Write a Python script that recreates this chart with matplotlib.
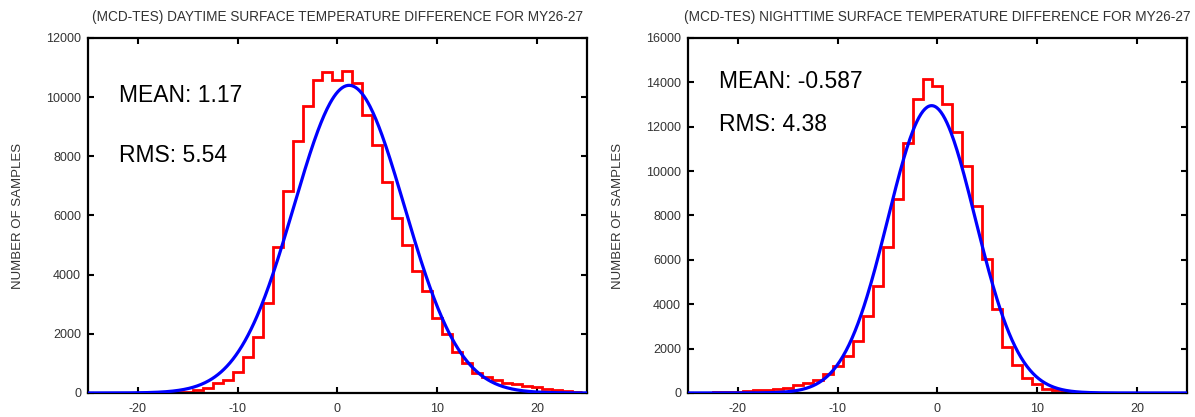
import numpy as np
import matplotlib.pyplot as plt

plt.rcParams['font.family'] = ['Liberation Sans', 'DejaVu Sans']
plt.rcParams['axes.unicode_minus'] = False

# bin centres (width 1 K)
bins = list(range(-24, 25))

# daytime histogram counts, bins -24..24
day_counts = [5, 5, 5, 5, 5, 10, 10, 15, 20, 50, 100, 160, 330, 440, 720, 1210,
              1900, 3030, 4920, 6840, 8530, 9710, 10580, 10840, 10580, 10880, 10490,
              9400, 8380, 7120, 5930, 5000, 4120, 3450, 2550, 2000, 1400, 1010, 690,
              530, 440, 350, 295, 250, 192, 146, 100, 70, 40]

# nighttime histogram counts, bins -24..24
night_counts = [5, 15, 30, 40, 60, 90, 120, 150, 182, 243, 348, 451, 573, 844, 1200,
                1680, 2360, 3460, 4816, 6562, 8729, 11288, 13244, 14147, 13846, 13003,
                11769, 10234, 8443, 6020, 3763, 2060, 1260, 662, 390, 181, 120, 80, 30,
                15, 5, 0, 0, 0, 0, 0, 0, 0, 0]

day_mean, day_rms, day_peak = 1.17, 5.54, 10400
night_mean, night_rms, night_peak = -0.587, 4.38, 12950

titles = ['(MCD-TES) DAYTIME SURFACE TEMPERATURE DIFFERENCE FOR MY26-27',
          '(MCD-TES) NIGHTTIME SURFACE TEMPERATURE DIFFERENCE FOR MY26-27']

fig = plt.figure(figsize=(11.95, 4.17), dpi=100)
ax1 = fig.add_axes([0.0736, 0.0576, 0.4176, 0.8513])
ax2 = fig.add_axes([0.5757, 0.0576, 0.4176, 0.8513])

panels = [
    (ax1, day_counts, day_mean, day_rms, day_peak, 12000, titles[0], '1.17', '5.54', 0.837, 0.668),
    (ax2, night_counts, night_mean, night_rms, night_peak, 16000, titles[1], '-0.587', '4.38', 0.878, 0.755),
]

xs = np.linspace(-25, 25, 500)
edges = np.arange(bins[0] - 0.5, bins[-1] + 1.5, 1.0)

for ax, counts, mu, rms, peak, ymax, title, mtxt, rtxt, ym, yr in panels:
    ax.stairs(counts, edges, color='#ff0000', lw=2.0, baseline=None, zorder=2)
    ax.plot(xs, peak * np.exp(-0.5 * ((xs - mu) / rms) ** 2), color='#0000ff', lw=2.3, zorder=3)
    ax.set_xlim(-25, 25)
    ax.set_ylim(0, ymax)
    ax.set_xticks([-20, -10, 0, 10, 20])
    ax.set_yticks(np.arange(0, ymax + 1, 2000))
    ax.tick_params(direction='in', top=True, right=True, length=4, width=1.5,
                   labelsize=9, labelcolor='#333333', pad=5)
    ax.tick_params(axis='x', pad=7)
    for s in ax.spines.values():
        s.set_linewidth(1.6)
    ax.set_title(title, fontsize=9.8, color='#333333', pad=12)
    ax.set_ylabel('NUMBER OF SAMPLES', fontsize=9.5, color='#333333', labelpad=16)
    ax.text(0.062, ym, 'MEAN: ' + mtxt, transform=ax.transAxes, fontsize=16.5, va='center')
    ax.text(0.062, yr, 'RMS: ' + rtxt, transform=ax.transAxes, fontsize=16.5, va='center')

fig.savefig('out.png', dpi=100)
